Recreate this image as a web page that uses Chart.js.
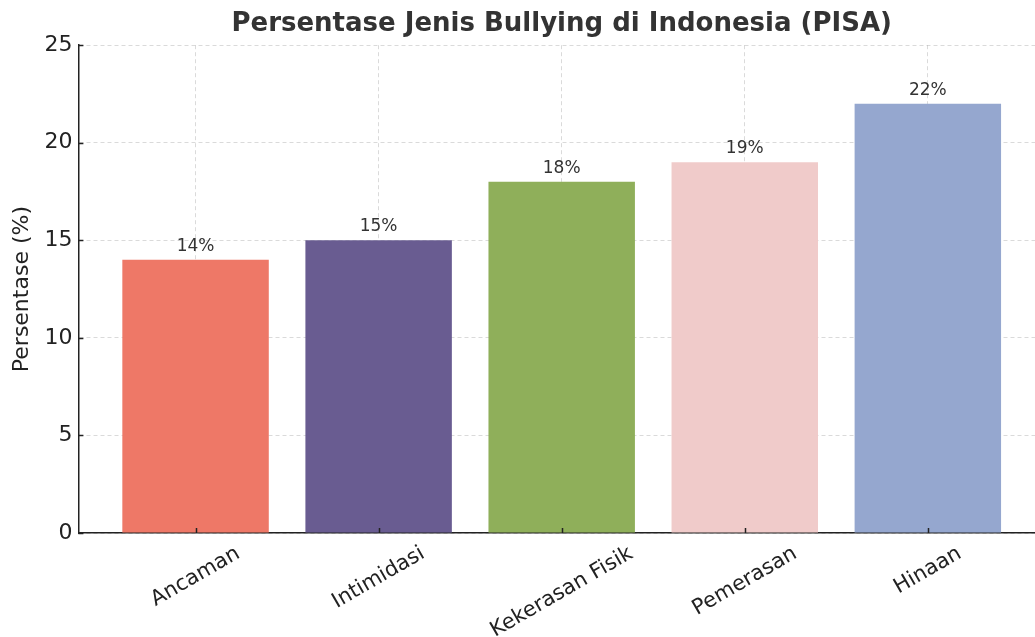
<!DOCTYPE html>
<html>
<head>
<meta charset="utf-8">
<script src="https://cdn.jsdelivr.net/npm/chart.js@4/dist/chart.umd.min.js"></script>
<style>
  html, body { margin: 0; padding: 0; overflow: hidden; background: #fff; }
  #wadah { width: 1045px; height: 637px; position: relative; }
</style>
</head>
<body>
<div id="wadah"><canvas id="grafikBullying"></canvas></div>
<script>
const kategori = ['Ancaman', 'Intimidasi', 'Kekerasan Fisik', 'Pemerasan', 'Hinaan'];
const persentase = [14, 15, 18, 19, 22];
const warnaBatang = ['#EE7867', '#695C91', '#8FAF5A', '#F0CBCA', '#95A7CF'];
const tickY = [0, 5, 10, 15, 20, 25];

const FONT = "'DejaVu Sans', sans-serif";
const abuTeks = '#333333';

// label nilai di atas batang + label kategori miring + tick ke dalam
const pluginLabel = {
    id: 'pluginLabel',
    afterDraw(chart) {
        const ctx = chart.ctx;
        const x = chart.scales.x;
        const y = chart.scales.y;
        const area = chart.chartArea;
        const meta = chart.getDatasetMeta(0);

        ctx.save();
        // nilai
        ctx.font = '17px ' + FONT;
        ctx.fillStyle = abuTeks;
        ctx.textAlign = 'center';
        ctx.textBaseline = 'alphabetic';
        meta.data.forEach((bar, i) => {
            ctx.fillText(persentase[i] + '%', bar.x, bar.y - 9);
        });

        // tick ke dalam
        ctx.strokeStyle = '#222';
        ctx.lineWidth = 1.5;
        ctx.beginPath();
        kategori.forEach((_, i) => {
            const px = Math.round(x.getPixelForValue(i)) + 0.5;
            ctx.moveTo(px, area.bottom);
            ctx.lineTo(px, area.bottom - 5);
        });
        tickY.forEach(v => {
            const py = Math.round(y.getPixelForValue(v)) + 0.5;
            ctx.moveTo(area.left, py);
            ctx.lineTo(area.left + 5, py);
        });
        ctx.stroke();

        // kategori miring 30 derajat, rata tengah
        const sudut = 30 * Math.PI / 180;
        ctx.font = '21px ' + FONT;
        ctx.fillStyle = '#222';
        ctx.textBaseline = 'middle';
        ctx.textAlign = 'center';
        kategori.forEach((nama, i) => {
            const w = ctx.measureText(nama).width;
            const h = 21;
            const tinggiKotak = w * Math.sin(sudut) + h * Math.cos(sudut);
            const px = x.getPixelForValue(i);
            const py = area.bottom + 10 + tinggiKotak / 2;
            ctx.save();
            ctx.translate(px, py);
            ctx.rotate(-sudut);
            ctx.fillText(nama, 0, 0);
            ctx.restore();
        });
        ctx.restore();
    }
};

const ctxBar = document.getElementById('grafikBullying').getContext('2d');
new Chart(ctxBar, {
    type: 'bar',
    data: {
        datasets: [{
            label: 'Persentase',
            data: persentase.map((v, i) => ({ x: i, y: v })),
            backgroundColor: warnaBatang,
            borderWidth: 0,
            barPercentage: 0.8,
            categoryPercentage: 1.0
        }]
    },
    options: {
        responsive: true,
        maintainAspectRatio: false,
        animation: false,
        layout: { padding: { left: 9, right: 0, top: 0, bottom: 104 } },
        plugins: {
            legend: { display: false },
            tooltip: { enabled: false },
            title: {
                display: true,
                fullSize: false,
                text: 'Persentase Jenis Bullying di Indonesia (PISA)',
                color: abuTeks,
                font: { family: FONT, size: 26, weight: 'bold' },
                padding: { top: 9, bottom: 5 }
            }
        },
        scales: {
            x: {
                type: 'linear',
                min: -0.64,
                max: 4.64,
                offset: false,
                z: 1,
                afterBuildTicks: s => { s.ticks = kategori.map((_, i) => ({ value: i })); },
                ticks: { display: false },
                grid: { offset: false, color: 'rgba(150,150,150,0.35)', lineWidth: 1, drawTicks: false },
                border: { display: true, color: '#222', width: 1.5, dash: [4, 3] }
            },
            y: {
                min: 0,
                max: 25,
                z: 1,
                afterBuildTicks: s => { s.ticks = tickY.map(v => ({ value: v })); },
                ticks: { color: '#222', font: { family: FONT, size: 22 }, padding: 6 },
                grid: { color: 'rgba(150,150,150,0.35)', lineWidth: 1, drawTicks: false },
                border: { display: true, color: '#222', width: 1.5, dash: [4, 3] },
                title: {
                    display: true,
                    text: 'Persentase (%)',
                    color: '#222',
                    font: { family: FONT, size: 22 },
                    padding: { top: 0, bottom: 3 }
                }
            }
        }
    },
    plugins: [pluginLabel]
});
</script>
</body>
</html>
